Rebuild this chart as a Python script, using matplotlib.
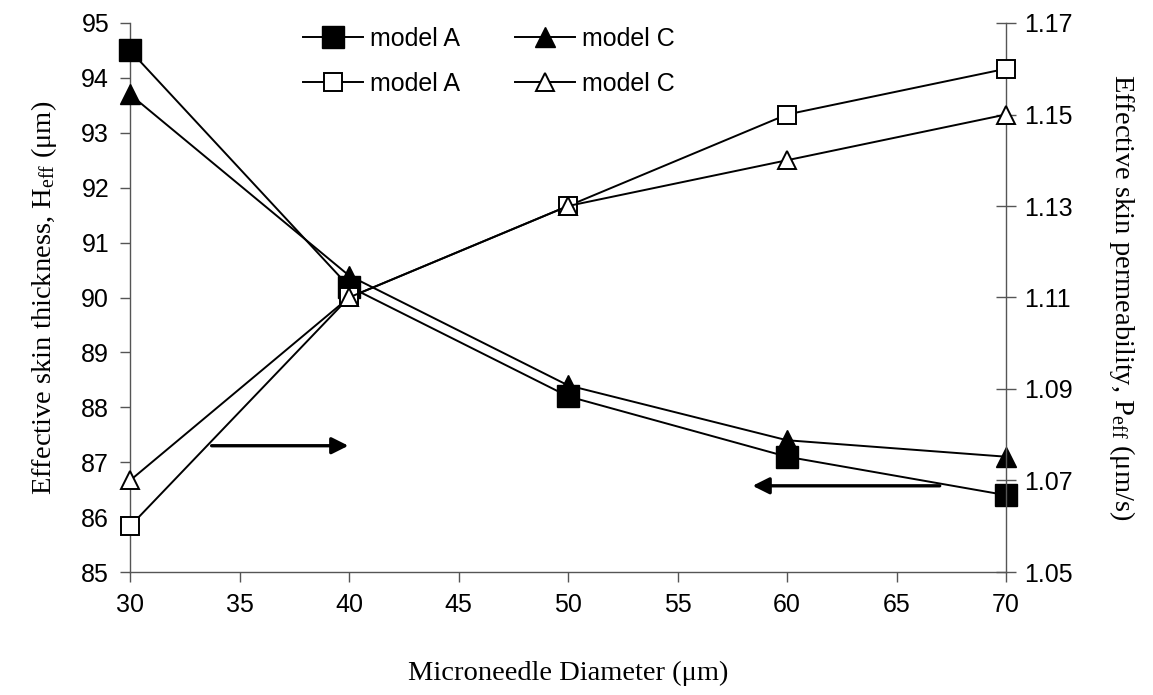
import matplotlib
matplotlib.use("Agg")
import matplotlib.pyplot as plt

# data
diameter = [30, 40, 50, 60, 70]
thick_A = [94.5, 90.2, 88.2, 87.1, 86.4]
thick_C = [93.7, 90.4, 88.4, 87.4, 87.1]
perm_A = [1.06, 1.11, 1.13, 1.15, 1.16]
perm_C = [1.07, 1.11, 1.13, 1.14, 1.15]

x_ticks = [30, 35, 40, 45, 50, 55, 60, 65, 70]
left_ticks = [85, 86, 87, 88, 89, 90, 91, 92, 93, 94, 95]
right_ticks = [1.05, 1.07, 1.09, 1.11, 1.13, 1.15, 1.17]

plt.rcParams['font.family'] = ['Liberation Sans', 'DejaVu Sans']
plt.rcParams['mathtext.fontset'] = 'custom'
plt.rcParams['mathtext.rm'] = 'Liberation Serif'
plt.rcParams['mathtext.it'] = 'Liberation Serif:italic'

fig = plt.figure(figsize=(11.53, 6.95), dpi=100)
ax = fig.add_axes([130/1153, 1 - 572/695, (1006 - 130)/1153, (572 - 23)/695])
ax2 = ax.twinx()

spine_col = '#555555'
for a in (ax, ax2):
    for s in a.spines.values():
        s.set_color(spine_col)
        s.set_linewidth(1.0)
    a.spines['top'].set_visible(False)
ax.spines['right'].set_visible(False)
ax2.spines['left'].set_visible(False)
ax2.spines['bottom'].set_visible(False)

lw = 1.4
h1, = ax.plot(diameter, thick_A, color='black', lw=lw, marker='s', ms=16,
              mfc='black', mec='black', label='model A', clip_on=False, zorder=5)
h2, = ax.plot(diameter, thick_C, color='black', lw=lw, marker='^', ms=15,
              mfc='black', mec='black', label='model C', clip_on=False, zorder=5)
h3, = ax2.plot(diameter, perm_A, color='black', lw=lw, marker='s', ms=12.5,
               mfc='white', mec='black', mew=1.4, label='model A', clip_on=False, zorder=5)
h4, = ax2.plot(diameter, perm_C, color='black', lw=lw, marker='^', ms=13.5,
               mfc='white', mec='black', mew=1.4, label='model C', clip_on=False, zorder=5)

ax.set_xlim(30, 70)
ax.set_ylim(85, 95)
ax2.set_ylim(1.05, 1.17)
ax.set_xticks(x_ticks)
ax.set_yticks(left_ticks)
ax2.set_yticks(right_ticks)
ax2.set_yticklabels(['%.2f' % v for v in right_ticks])

ax.tick_params(axis='both', labelsize=18, length=7, width=1, color=spine_col, pad=8)
ax2.tick_params(axis='y', labelsize=18, length=14, width=1, color=spine_col,
                direction='inout', pad=6)

ax.set_xlabel('Microneedle Diameter (μm)', fontsize=20.5, family='Liberation Serif', labelpad=32)
ax.set_ylabel('Effective skin thickness, H$_\\mathrm{eff}$ (μm)', fontsize=20.5,
              family='Liberation Serif', labelpad=16)
ax2.set_ylabel('Effective skin permeability, P$_\\mathrm{eff}$ (μm/s)', fontsize=20.5,
               family='Liberation Serif', rotation=-90, labelpad=46)

# arrows pointing to the relevant axis
ax.annotate('', xy=(40.1, 87.3), xytext=(33.6, 87.3),
            arrowprops=dict(arrowstyle='-|>', lw=2.4, color='black', mutation_scale=25))
ax.annotate('', xy=(58.3, 86.57), xytext=(67.1, 86.57),
            arrowprops=dict(arrowstyle='-|>', lw=2.4, color='black', mutation_scale=25))

fig.legend(handles=[h1, h3, h2, h4], ncol=2, loc='upper left',
           bbox_to_anchor=(290/1153, 1 - 14/695), frameon=False, fontsize=18,
           borderpad=0, handlelength=2.4, handletextpad=0.3, columnspacing=2.2,
           labelspacing=0.85)

fig.savefig('out.png', dpi=100)
